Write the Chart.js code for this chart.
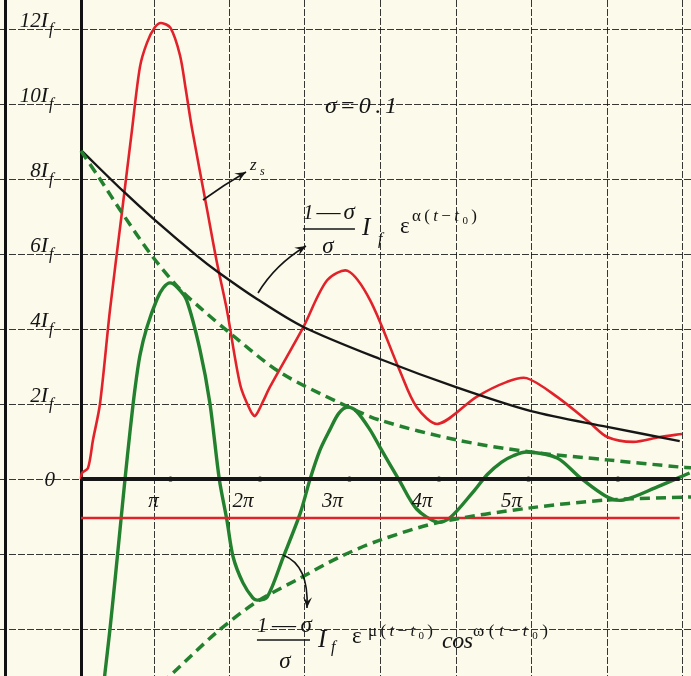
<!DOCTYPE html>
<html><head><meta charset="utf-8">
<script src="https://cdn.jsdelivr.net/npm/chart.js@4.4.1/dist/chart.umd.min.js"></script>
<style>html,body{margin:0;padding:0;background:#fcfaea;}#wrap{width:691px;height:676px;}</style>
</head><body><div id="wrap"><canvas id="c" width="691" height="676"></canvas></div>
<script>
// t in units of π, values in units of I_f
const redT = [0, 0.011, 0.078, 0.134, 0.212, 0.324, 0.458, 0.57, 0.659, 0.737, 0.827, 0.894, 1.0, 1.106, 1.17, 1.24, 1.41, 1.52, 1.63, 1.78, 1.89, 1.944, 2.03, 2.11, 2.48, 2.75, 2.98, 3.23, 3.56, 3.75, 3.99, 4.42, 4.76, 4.98, 5.32, 5.69, 5.88, 6.17, 6.47, 6.715];
const redV = [0, 0.16, 0.29, 1.04, 2.0, 4.51, 7.12, 9.31, 10.99, 11.63, 12.05, 12.16, 12.03, 11.3, 10.4, 9.35, 7.17, 5.76, 4.51, 2.5, 1.84, 1.68, 2.05, 2.45, 4.03, 5.3, 5.55, 4.77, 2.9, 1.92, 1.47, 2.19, 2.59, 2.69, 2.19, 1.49, 1.12, 0.99, 1.12, 1.2];

const greenT = [0.24, 0.268, 0.324, 0.38, 0.436, 0.492, 0.547, 0.603, 0.659, 0.737, 0.85, 0.92, 0.994, 1.08, 1.18, 1.33, 1.44, 1.545, 1.63, 1.70, 1.81, 1.92, 1.97, 2.08, 2.26, 2.45, 2.56, 2.67, 2.78, 2.88, 2.98, 3.08, 3.23, 3.34, 3.56, 3.75, 3.98, 4.12, 4.38, 4.54, 4.7, 4.83, 4.98, 5.32, 5.58, 5.88, 6.06, 6.44, 6.8];
const greenV = [-5.8, -5.17, -4.0, -2.7, -1.35, 0, 1.25, 2.4, 3.3, 4.05, 4.8, 5.1, 5.23, 5.1, 4.77, 3.44, 2.03, 0, -1.09, -2.08, -2.77, -3.17, -3.23, -3.15, -2.08, -0.91, 0, 0.77, 1.31, 1.75, 1.92, 1.8, 1.31, 0.85, -0.05, -0.8, -1.15, -1.04, -0.35, 0.12, 0.45, 0.62, 0.72, 0.56, 0.03, -0.48, -0.56, -0.21, 0.16];

const blackT = [0, 0.469, 0.804, 1.296, 1.53, 1.966, 2.48, 3.34, 4.19, 5.03, 5.88, 6.69];
const blackV = [8.77, 7.68, 6.95, 5.95, 5.52, 4.8, 4.06, 3.2, 2.45, 1.81, 1.39, 1.01];

const upperT = [0, 0.212, 0.458, 0.793, 1.106, 1.33, 1.665, 2.22, 2.89, 3.34, 4.2, 5.02, 5.88, 6.69, 6.816];
const upperV = [8.75, 8.0, 7.1, 5.95, 5.06, 4.57, 3.89, 2.85, 2.03, 1.57, 1.04, 0.72, 0.51, 0.32, 0.30];

const lowerT = [0.9, 1.03, 1.52, 1.96, 2.45, 2.89, 3.34, 4.01, 5.02, 5.88, 6.816];
const lowerV = [-5.46, -5.17, -4.08, -3.28, -2.64, -2.08, -1.63, -1.15, -0.77, -0.56, -0.48];

const flatT = [0, 6.69];
const flatV = [-1.04, -1.04];
const axisT = [0, 6.69];
const axisV = [0, 0];
const piT = [1, 2, 3, 4, 5, 6];
const piV = [0, 0, 0, 0, 0, 0];

const piLabels = ['π', '2π', '3π', '4π', '5π'];
const yLabelValues = [12, 10, 8, 6, 4, 2];
const yLabelNums = ['12', '10', '8', '6', '4', '2'];
const yGridTicks = [-4, -2, 0, 2, 4, 6, 8, 10, 12];
const xGridTicks = [-0.849, 0, 0.816, 1.654, 2.492, 3.341, 4.190, 5.028, 5.877, 6.715];

const RED = '#e2222a', GREEN = '#22802e', BLACK = '#161616', GRID = 'rgba(20,20,20,0.85)', BG = '#fcfaea';
const FONT = '"Liberation Serif", "DejaVu Serif", serif';

const pts = (T, V) => T.map((t, i) => ({x: t, y: V[i]}));

function drawRun(ctx, x, y, parts, opt) {
  opt = opt || {};
  const chars = [];
  parts.forEach(p => { for (const ch of p[0]) chars.push({ch, size: p[1], it: p[2] !== false, dy: p[3] || 0}); });
  let nat = 0;
  chars.forEach(c => { ctx.font = (c.it ? 'italic ' : '') + c.size + 'px ' + FONT; c.w = ctx.measureText(c.ch).width; nat += c.w; });
  let gap = 0;
  if (opt.width && chars.length > 1) gap = (opt.width - nat) / (chars.length - 1);
  const total = opt.width || nat;
  let cx = x;
  if (opt.align === 'center') cx = x - total / 2;
  else if (opt.align === 'right') cx = x - total;
  ctx.textAlign = 'left'; ctx.textBaseline = 'alphabetic'; ctx.fillStyle = opt.color || '#151515';
  chars.forEach(c => { ctx.font = (c.it ? 'italic ' : '') + c.size + 'px ' + FONT; ctx.fillText(c.ch, cx, y + c.dy); cx += c.w + gap; });
  return cx - gap;
}

function arrow(ctx, a, c, b) {
  ctx.save();
  ctx.strokeStyle = '#151515'; ctx.fillStyle = '#151515'; ctx.lineWidth = 1.6;
  ctx.beginPath(); ctx.moveTo(a[0], a[1]); ctx.quadraticCurveTo(c[0], c[1], b[0], b[1]); ctx.stroke();
  const ang = Math.atan2(b[1] - c[1], b[0] - c[0]);
  const L = 11, W = 4.5;
  ctx.beginPath();
  ctx.moveTo(b[0], b[1]);
  ctx.lineTo(b[0] - L * Math.cos(ang) + W * Math.sin(ang), b[1] - L * Math.sin(ang) - W * Math.cos(ang));
  ctx.lineTo(b[0] - L * 0.6 * Math.cos(ang), b[1] - L * 0.6 * Math.sin(ang));
  ctx.lineTo(b[0] - L * Math.cos(ang) - W * Math.sin(ang), b[1] - L * Math.sin(ang) + W * Math.cos(ang));
  ctx.closePath(); ctx.fill();
  ctx.restore();
}

const paper = {
  id: 'paper',
  beforeDraw(chart) {
    const ctx = chart.ctx;
    ctx.save(); ctx.fillStyle = BG; ctx.fillRect(0, 0, chart.width, chart.height); ctx.restore();
  },
  beforeDatasetsDraw(chart) {
    const ctx = chart.ctx;
    const xs = chart.scales.x, ys = chart.scales.y;
    const a = chart.chartArea;
    ctx.save();
    xGridTicks.forEach((v, i) => {
      const px = Math.round(xs.getPixelForValue(v)) + 0.5;
      const thick = i <= 1;
      ctx.strokeStyle = thick ? '#111' : GRID;
      ctx.lineWidth = thick ? 3 : 1;
      ctx.setLineDash(thick ? [] : [7, 2]);
      ctx.beginPath(); ctx.moveTo(px, a.top); ctx.lineTo(px, a.bottom); ctx.stroke();
    });
    yGridTicks.forEach(v => {
      const py = Math.round(ys.getPixelForValue(v)) + 0.5;
      ctx.strokeStyle = GRID; ctx.lineWidth = 1; ctx.setLineDash([7, 2]);
      ctx.beginPath(); ctx.moveTo(a.left, py); ctx.lineTo(a.right, py); ctx.stroke();
    });
    ctx.restore();
  }
};

const notes = {
  id: 'notes',
  afterDatasetsDraw(chart) {
    const ctx = chart.ctx;
    const xs = chart.scales.x, ys = chart.scales.y;
    const X = v => xs.getPixelForValue(v), Y = v => ys.getPixelForValue(v);
    const P = (t, v) => [X(t), Y(v)];
    const x0 = X(0);
    ctx.save();
    // y labels
    yLabelValues.forEach((v, i) => {
      const py = Y(v);
      const end = drawRun(ctx, x0 - 33, py - 2, [[yLabelNums[i], 21], ['I', 22]], {align: 'right'});
      drawRun(ctx, end + 1, py + 5, [['f', 16]]);
    });
    drawRun(ctx, x0 - 26, Y(0) + 7, [['0', 21]], {align: 'right'});
    // π labels
    piLabels.forEach((s, i) => {
      drawRun(ctx, X(i + 1) - 17, Y(-0.75), [[s, 21]], {align: 'center'});
    });
    // sigma
    let p = P(2.726, 9.76);
    drawRun(ctx, p[0], p[1], [['σ', 24], ['=', 24, false], ['0', 24], ['.', 24, false], ['1', 24]], {width: 72});
    // i_s label + arrow
    p = P(1.888, 8.24); drawRun(ctx, p[0], p[1], [['z', 17]]);
    p = P(2.0, 8.107); drawRun(ctx, p[0], p[1], [['s', 12]]);
    arrow(ctx, P(1.363, 7.44), P(1.6, 7.85), P(1.844, 8.187));

    // black formula
    p = P(2.480, 6.933); drawRun(ctx, p[0], p[1], [['1', 21], ['—', 24, false], ['σ', 23]], {width: 52});
    ctx.strokeStyle = '#151515'; ctx.lineWidth = 1.4;
    ctx.beginPath(); ctx.moveTo(X(2.48), Y(6.667)); ctx.lineTo(X(3.061), Y(6.667)); ctx.stroke();
    p = P(2.760, 6.027); drawRun(ctx, p[0], p[1], [['σ', 23]], {align: 'center'});
    p = P(3.140, 6.507); drawRun(ctx, p[0], p[1], [['I', 25]]);
    p = P(3.318, 6.267); drawRun(ctx, p[0], p[1], [['f', 16]]);
    p = P(3.564, 6.56); drawRun(ctx, p[0], p[1], [['ε', 23, false]]);
    p = P(3.698, 6.88); drawRun(ctx, p[0], p[1], [['α(', 17, false], ['t', 17], ['−', 17, false], ['t', 17], ['0', 11, false, 3], [')', 17, false]], {width: 65});
    arrow(ctx, P(1.978, 4.96), P(2.17, 5.72), P(2.514, 6.213));

    // green formula
    p = P(1.966, -4.08); drawRun(ctx, p[0], p[1], [['1', 21], ['—', 24, false], ['σ', 23]], {width: 55});
    ctx.beginPath(); ctx.moveTo(X(1.966), Y(-4.293)); ctx.lineTo(X(2.559), Y(-4.293)); ctx.stroke();
    p = P(2.279, -5.04); drawRun(ctx, p[0], p[1], [['σ', 23]], {align: 'center'});
    p = P(2.648, -4.48); drawRun(ctx, p[0], p[1], [['I', 25]]);
    p = P(2.793, -4.613); drawRun(ctx, p[0], p[1], [['f', 16]]);
    p = P(3.028, -4.373); drawRun(ctx, p[0], p[1], [['ε', 23, false]]);
    p = P(3.207, -4.187); drawRun(ctx, p[0], p[1], [['μ(', 17, false], ['t', 17], ['−', 17, false], ['t', 17], ['0', 11, false, 3], [')', 17, false]], {width: 65});
    p = P(4.034, -4.507); drawRun(ctx, p[0], p[1], [['cos', 24]], {width: 31});
    p = P(4.380, -4.187); drawRun(ctx, p[0], p[1], [['ω(', 17, false], ['t', 17], ['−', 17, false], ['t', 17], ['0', 11, false, 3], [')', 17, false]], {width: 75});
    arrow(ctx, P(2.257, -2.027), P(2.55, -2.3), P(2.525, -3.44));
    ctx.restore();
  }
};

const line = (data, color, width, extra) => Object.assign({
  data, borderColor: color, backgroundColor: color, borderWidth: width, pointRadius: 0,
  showLine: true, fill: false, tension: 0.3
}, extra || {});

new Chart(document.getElementById('c'), {
  type: 'line',
  data: {
    datasets: [
      line(pts(upperT, upperV), GREEN, 3.5, {borderDash: [10, 6], label: 'upper envelope'}),
      line(pts(lowerT, lowerV), GREEN, 3.5, {borderDash: [10, 6], label: 'lower envelope'}),
      line(pts(axisT, axisV), BLACK, 4, {label: 'axis', tension: 0}),
      line(pts(piT, piV), BLACK, 0, {label: 'ticks', showLine: false, pointRadius: 2.6, pointBorderWidth: 0}),
      line(pts(flatT, flatV), RED, 2.6, {label: 'flat', tension: 0}),
      line(pts(blackT, blackV), BLACK, 2.4, {label: 'exp'}),
      line(pts(redT, redV), RED, 2.6, {label: 'i_s'}),
      line(pts(greenT, greenV), GREEN, 3.4, {label: 'osc'})
    ]
  },
  options: {
    responsive: false,
    animation: false,
    layout: {padding: 0, autoPadding: false},
    plugins: {legend: {display: false}, tooltip: {enabled: false}},
    scales: {
      x: {type: 'linear', min: -0.905, max: 6.816, display: false},
      y: {type: 'linear', min: -5.253, max: 12.773, display: false}
    }
  },
  plugins: [paper, notes]
});
</script>
</body></html>
